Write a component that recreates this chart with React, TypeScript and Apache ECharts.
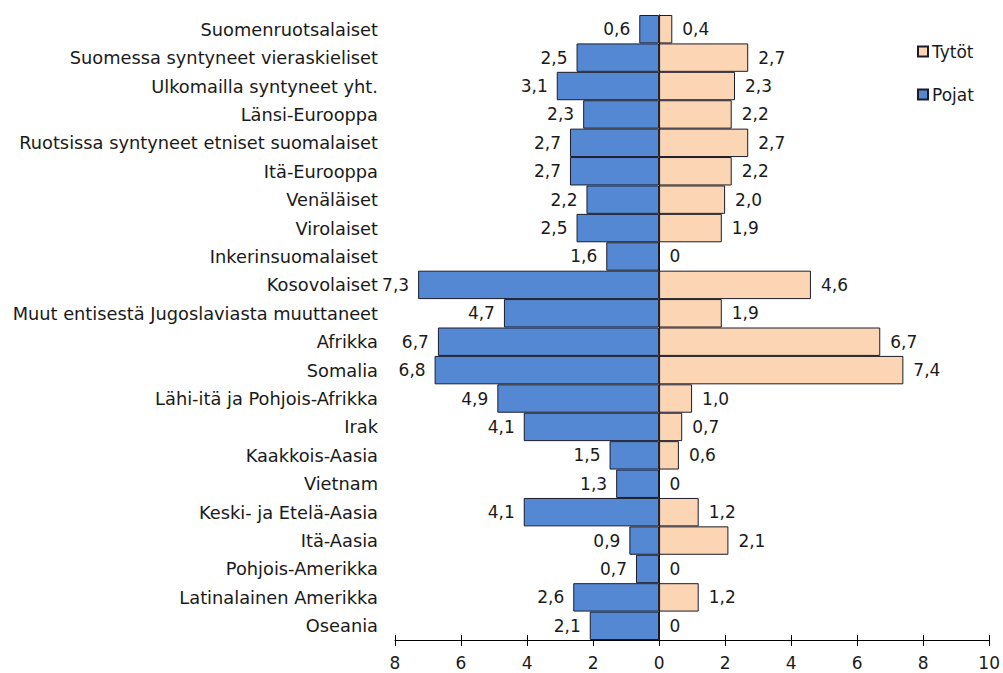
import React, { useEffect, useRef } from "react";
import * as echarts from "echarts";

const categories = [
  "Suomenruotsalaiset",
  "Suomessa syntyneet vieraskieliset",
  "Ulkomailla syntyneet yht.",
  "Länsi-Eurooppa",
  "Ruotsissa syntyneet etniset suomalaiset",
  "Itä-Eurooppa",
  "Venäläiset",
  "Virolaiset",
  "Inkerinsuomalaiset",
  "Kosovolaiset",
  "Muut entisestä Jugoslaviasta muuttaneet",
  "Afrikka",
  "Somalia",
  "Lähi-itä ja Pohjois-Afrikka",
  "Irak",
  "Kaakkois-Aasia",
  "Vietnam",
  "Keski- ja Etelä-Aasia",
  "Itä-Aasia",
  "Pohjois-Amerikka",
  "Latinalainen Amerikka",
  "Oseania",
];

const pojat = [0.6, 2.5, 3.1, 2.3, 2.7, 2.7, 2.2, 2.5, 1.6, 7.3, 4.7, 6.7, 6.8, 4.9, 4.1, 1.5, 1.3, 4.1, 0.9, 0.7, 2.6, 2.1];
const tytot = [0.4, 2.7, 2.3, 2.2, 2.7, 2.2, 2.0, 1.9, 0, 4.6, 1.9, 6.7, 7.4, 1.0, 0.7, 0.6, 0, 1.2, 2.1, 0, 1.2, 0];

const xMin = -8;
const xMax = 10;
const xStep = 2;

const FONT = "DejaVu Sans";
const TXT = "#1a1a1a";

const fmtVal = (v: number) => {
  const a = Math.abs(v);
  return a === 0 ? "0" : a.toFixed(1).replace(".", ",");
};

export default function App() {
  const ref = useRef<HTMLDivElement>(null);
  useEffect(() => {
    if (!ref.current) return;
    const chart = echarts.init(ref.current, null, { renderer: "svg" });
    chart.setOption({
      animation: false,
      backgroundColor: "#ffffff",
      textStyle: { fontFamily: FONT, color: TXT },
      legend: {
        orient: "vertical",
        left: 912,
        top: 38,
        itemWidth: 10,
        itemHeight: 10,
        itemGap: 26,
        icon: "rect",
        data: ["Tytöt", "Pojat"],
        textStyle: { fontFamily: FONT, fontSize: 17, color: TXT, padding: [0, 0, 0, -1] },
      },
      grid: { left: 395, right: 11, top: 15, bottom: 33, containLabel: false },
      xAxis: [
        {
          type: "value",
          min: xMin,
          max: xMax,
          interval: xStep,
          splitLine: { show: false },
          axisLine: { show: true, lineStyle: { color: "#000", width: 1 } },
          axisTick: { show: true, length: 6, lineStyle: { color: "#000" } },
          axisLabel: {
            formatter: (v: number) => String(Math.abs(v)),
            fontFamily: FONT,
            fontSize: 17,
            color: TXT,
            margin: 14,
          },
        },
        {
          type: "value",
          position: "bottom",
          min: xMin,
          max: xMax,
          interval: xStep,
          splitLine: { show: false },
          axisLine: { show: false },
          axisTick: { show: true, inside: true, length: 5, lineStyle: { color: "#000" } },
          axisLabel: { show: false },
        },
      ],
      yAxis: [
        {
          type: "category",
          data: categories,
          inverse: true,
          axisLine: { show: true, onZero: true, lineStyle: { color: "#000", width: 1 } },
          axisTick: { show: false },
          axisLabel: { show: false },
        },
        {
          type: "category",
          data: categories,
          inverse: true,
          position: "left",
          axisLine: { show: false, onZero: false },
          axisTick: { show: false },
          axisLabel: { fontFamily: FONT, fontSize: 17.8, color: TXT, margin: 17 },
        },
      ],
      series: [
        {
          name: "Pojat",
          type: "bar",
          data: pojat.map((v) => -v),
          barGap: "-100%",
          barCategoryGap: "0%",
          itemStyle: { color: "#5588D3", borderColor: "#1c1c28", borderWidth: 1 },
          label: {
            show: true,
            position: "left",
            distance: 9,
            formatter: (p: any) => fmtVal(p.value),
            fontFamily: FONT,
            fontSize: 17,
            color: TXT,
          },
        },
        {
          name: "Tytöt",
          type: "bar",
          data: tytot,
          barGap: "-100%",
          barCategoryGap: "0%",
          itemStyle: { color: "#FCD5B4", borderColor: "#1c1c28", borderWidth: 1 },
          label: {
            show: true,
            position: "right",
            distance: 10,
            formatter: (p: any) => fmtVal(p.value),
            fontFamily: FONT,
            fontSize: 17,
            color: TXT,
          },
        },
      ],
    });
    return () => chart.dispose();
  }, []);
  return <div ref={ref} style={{ width: 1003, height: 673, position: "absolute", left: 0, top: 0 }} />;
}
